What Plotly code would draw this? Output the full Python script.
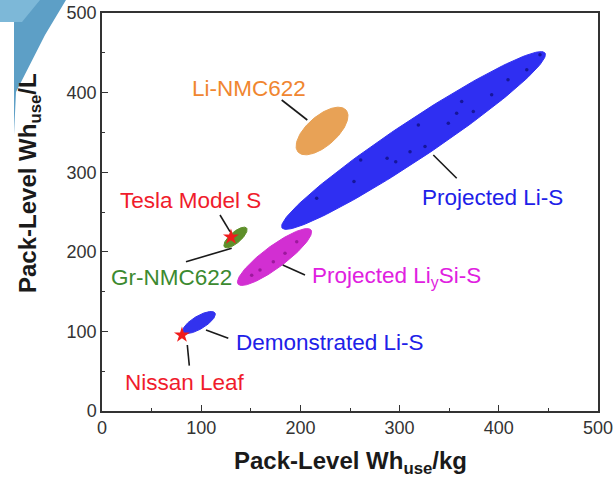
import numpy as np
import plotly.graph_objects as go

# ---------------- data ----------------
regions = ["Projected Li-S", "Li-NMC622", "Gr-NMC622", "Projected LiySi-S", "Demonstrated Li-S"]
# each region is an elongated ellipse spanning from a low tip to a high tip (Wh/kg, Wh/L)
tip_low_kg  = [181.5, 197.6, 123.4, 137.1, 81.7]
tip_low_L   = [230.0, 325.4, 206.0, 159.5, 99.2]
tip_high_kg = [446.6, 246.0, 145.7, 210.7, 113.9]
tip_high_L  = [449.7, 378.1, 229.9, 227.4, 123.1]

# individual cell-design points visible inside the projected regions
lis_pts_kg = [216.4, 254.0, 260.8, 287.4, 296.1, 310.5, 318.9, 325.6, 349.1, 357.5, 362.6, 374.3, 392.8, 409.3, 428.2, 441.5]
lis_pts_L  = [267.3, 288.2, 315.3, 317.5, 313.2, 325.8, 359.3, 332.2, 361.6, 374.2, 388.9, 376.3, 397.2, 416.2, 428.7, 447.5]
lisi_pts_kg = [150.9, 159.3, 172.7, 184.5, 196.3]
lisi_pts_L  = [170.5, 177.1, 187.6, 198.1, 212.7]

vehicles = ["Tesla Model S", "Nissan Leaf"]
vehicle_kg = [130.0, 80.6]
vehicle_L = [218.6, 95.5]

x_ticks = [0, 100, 200, 300, 400, 500]
y_ticks = [0, 100, 200, 300, 400, 500]

# ---------------- styling ----------------
region_fill = ["#2f2ff2", "#e8a256", "#5e8f2a", "#d22fd2", "#3232ee"]
region_halfwidth_px = [19, 15, 5.5, 11, 6.5]

W, H = 616, 481
L_M, R_M, T_M, B_M = 102, 18, 13, 70
PW, PH = W - L_M - R_M, H - T_M - B_M
XR, YR = (0, 500), (0, 500)
sx = PW / (XR[1] - XR[0])
sy = PH / (YR[1] - YR[0])


def ellipse(x1, y1, x2, y2, b_px, n=160):
    p1 = np.array([x1 * sx, y1 * sy])
    p2 = np.array([x2 * sx, y2 * sy])
    c = (p1 + p2) / 2
    d = p2 - p1
    a = np.linalg.norm(d) / 2
    u = d / np.linalg.norm(d)
    v = np.array([-u[1], u[0]])
    t = np.linspace(0, 2 * np.pi, n)
    px = c[0] + a * np.cos(t) * u[0] + b_px * np.sin(t) * v[0]
    py = c[1] + a * np.cos(t) * u[1] + b_px * np.sin(t) * v[1]
    return px / sx, py / sy


fig = go.Figure()
for i, name in enumerate(regions):
    ex, ey = ellipse(tip_low_kg[i], tip_low_L[i], tip_high_kg[i], tip_high_L[i], region_halfwidth_px[i])
    fig.add_trace(go.Scatter(x=ex, y=ey, mode="lines", fill="toself",
                             fillcolor=region_fill[i], line=dict(color=region_fill[i], width=1),
                             name=name, hoverinfo="name", showlegend=False))

fig.add_trace(go.Scatter(x=lis_pts_kg, y=lis_pts_L, mode="markers",
                         marker=dict(size=3.5, color="#16169a"), hoverinfo="skip", showlegend=False))
fig.add_trace(go.Scatter(x=lisi_pts_kg, y=lisi_pts_L, mode="markers",
                         marker=dict(size=3.5, color="#9c189c"), hoverinfo="skip", showlegend=False))

fig.add_trace(go.Scatter(x=vehicle_kg, y=vehicle_L, mode="markers",
                         marker=dict(symbol="star", size=12, color="#f01c1c",
                                     line=dict(width=0)),
                         text=vehicles, hoverinfo="text", showlegend=False))


def px2data(px, py):
    return (px - L_M) / sx, (T_M + PH - py) / sy


FONT = "Liberation Sans, Arial, sans-serif"
labels = [
    ("Li-NMC622", 249, 88, "#f08630"),
    ("Tesla Model S", 190, 200, "#f01c2c"),
    ("Gr-NMC622", 171, 277, "#3c8a30"),
    ("Projected Li<sub>y</sub>Si-S", 396, 277, "#e020e0"),
    ("Demonstrated Li-S", 330, 342, "#2020e8"),
    ("Projected Li-S", 492, 197, "#2020e8"),
    ("Nissan Leaf", 185, 382, "#f01c2c"),
]
annotations = []
for txt, px, py, col in labels:
    dx, dy = px2data(px, py)
    annotations.append(dict(x=dx, y=dy, xref="x", yref="y", text=txt, showarrow=False,
                            font=dict(family=FONT, size=22.5, color=col),
                            xanchor="center", yanchor="middle"))

leaders = [
    (281.7, 100, 307.3, 120),
    (220, 215, 230, 231.7),
    (186, 261.7, 231.7, 248.3),
    (282.7, 265, 305, 275),
    (206, 330, 228.3, 338.3),
    (433.3, 155, 456.7, 178.3),
    (187.3, 345, 189.3, 365.7),
]
shapes = []
for x0, y0, x1, y1 in leaders:
    a0, b0 = px2data(x0, y0)
    a1, b1 = px2data(x1, y1)
    shapes.append(dict(type="line", xref="x", yref="y", x0=a0, y0=b0, x1=a1, y1=b1,
                       line=dict(color="#1a1a1a", width=1.6)))


# scan decoration at top-left (paper coordinates from pixels)
def pp(px, py):
    return (px - L_M) / PW, (T_M + PH - py) / PH


pts = [(0, 0), (66, 0), (45, 35), (16, 92), (14, 135), (14, 22), (0, 22)]
path = "M " + " L ".join(f"{pp(a, b)[0]:.4f},{pp(a, b)[1]:.4f}" for a, b in pts) + " Z"
shapes.append(dict(type="path", xref="paper", yref="paper", path=path,
                   fillcolor="#5d9fc6", line=dict(width=0), layer="below"))
pts2 = [(0, 0), (40, 0), (22, 22), (0, 22)]
path2 = "M " + " L ".join(f"{pp(a, b)[0]:.4f},{pp(a, b)[1]:.4f}" for a, b in pts2) + " Z"
shapes.append(dict(type="path", xref="paper", yref="paper", path=path2,
                   fillcolor="#7db8d8", line=dict(width=0), layer="below"))

# axis titles
ax, ay = pp(350, 462)
annotations.append(dict(x=ax, y=ay, xref="paper", yref="paper",
                        text="<b>Pack-Level Wh<sub>use</sub>/kg</b>", showarrow=False,
                        font=dict(family=FONT, size=24, color="#1a1a1a"),
                        xanchor="center", yanchor="middle"))
bx, by = pp(30, 183)
annotations.append(dict(x=bx, y=by, xref="paper", yref="paper",
                        text="<b>Pack-Level Wh<sub>use</sub>/L</b>", showarrow=False, textangle=-90,
                        font=dict(family=FONT, size=24, color="#1a1a1a"),
                        xanchor="center", yanchor="middle"))

axis_common = dict(showgrid=False, zeroline=False, showline=True, linecolor="#333333",
                   linewidth=1.5, mirror=True, ticks="inside", ticklen=6, tickwidth=1.2,
                   tickcolor="#333333", automargin=False,
                   tickfont=dict(family=FONT, size=18, color="#333333"),
                   minor=dict(ticks="inside", ticklen=3.5, tickwidth=1, tickcolor="#333333", dtick=50))

fig.update_layout(
    width=W, height=H,
    margin=dict(l=L_M, r=R_M, t=T_M, b=B_M),
    paper_bgcolor="white", plot_bgcolor="white",
    xaxis=dict(range=list(XR), tickvals=x_ticks, ticktext=[str(v) for v in x_ticks], **axis_common),
    yaxis=dict(range=list(YR), tickvals=y_ticks, ticktext=[str(v) for v in y_ticks], **axis_common),
    annotations=annotations,
    shapes=shapes,
    showlegend=False,
)

fig.write_html("out.html", config={"displayModeBar": False},
               post_script="document.body.style.margin='0';document.body.style.overflow='hidden';")
